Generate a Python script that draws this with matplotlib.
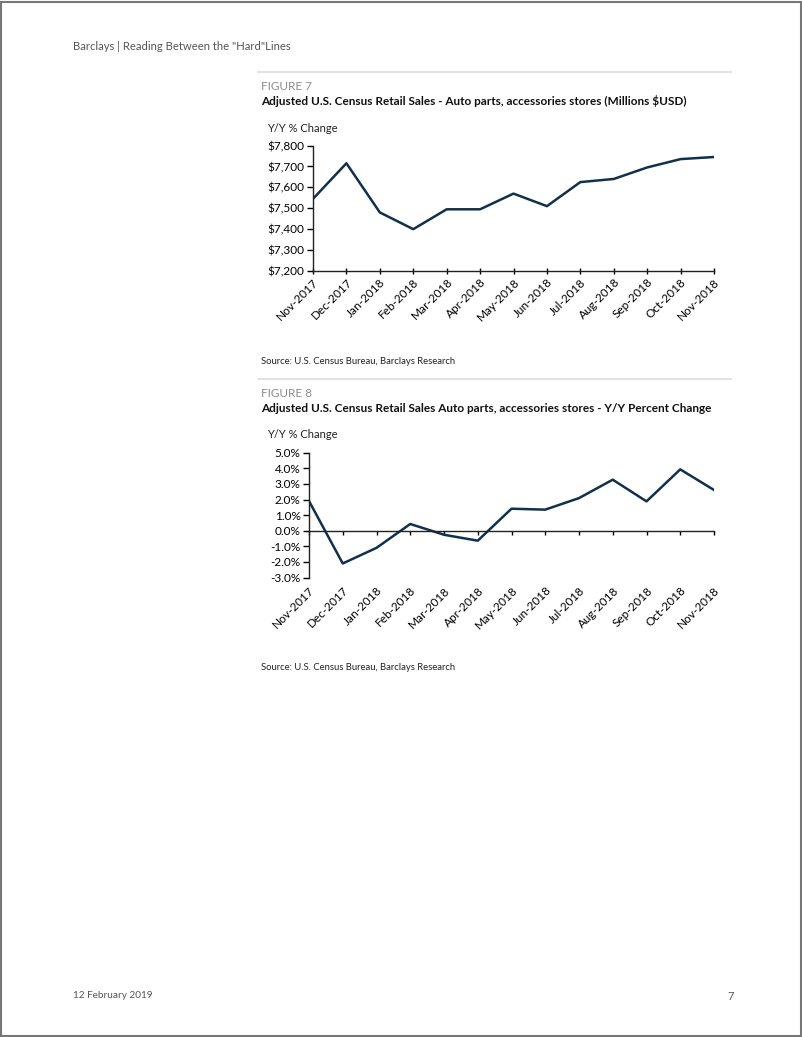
import matplotlib
matplotlib.use("Agg")
import matplotlib.pyplot as plt
from matplotlib.ticker import FuncFormatter
from matplotlib.patches import Rectangle
from matplotlib.lines import Line2D

plt.rcParams["font.family"] = ["Lato", "DejaVu Sans"]

months = ["Nov-2017", "Dec-2017", "Jan-2018", "Feb-2018", "Mar-2018", "Apr-2018",
          "May-2018", "Jun-2018", "Jul-2018", "Aug-2018", "Sep-2018", "Oct-2018",
          "Nov-2018"]
sales = [7545, 7715, 7480, 7400, 7495, 7495, 7570, 7510, 7625, 7640, 7695, 7735, 7745]
yoy_pct = [1.9, -2.1, -1.1, 0.43, -0.26, -0.64, 1.41, 1.35, 2.09, 3.27, 1.88, 3.93, 2.61]

LINE = "#11304b"
GREY = "#8a8a8a"
W, H = 802, 1037


def fx(px):
    return px / W


def fy(py):
    return 1 - py / H


fig = plt.figure(figsize=(W / 100, H / 100), dpi=100)

# page frame, header and footer
fig.add_artist(Rectangle((0.001, 0.001), 0.998, 0.997, transform=fig.transFigure,
                         fill=False, edgecolor="#777777", lw=1.5))
fig.text(fx(73), fy(47), 'Barclays | Reading Between the "Hard"Lines', fontsize=8.1,
         color="#555555", va="center")
fig.text(fx(73), fy(996), "12 February 2019", fontsize=7.2, color="#555555", va="center")
fig.text(fx(727), fy(996), "7", fontsize=8, color="#555555", va="center")


def style_axes(ax, pad=2):
    ax.set_xlim(0, len(months) - 1)
    ax.set_xticks(range(len(months)))
    ax.spines["top"].set_visible(False)
    ax.spines["right"].set_visible(False)
    for s in ("left", "bottom"):
        ax.spines[s].set_linewidth(1.0)
        ax.spines[s].set_color("#222222")
    ax.tick_params(axis="y", direction="out", length=4, width=1, labelsize=8.5, pad=2)
    ax.tick_params(axis="x", direction="out", length=3, width=1, pad=pad)
    ax.set_xticklabels(months)
    plt.setp(ax.get_xticklabels(), rotation=45, ha="right", rotation_mode="anchor",
             fontsize=8.5)


def header(top_rule, fig_label, title):
    fig.add_artist(Line2D([fx(258), fx(731)], [fy(top_rule), fy(top_rule)],
                          transform=fig.transFigure, color="#dddddd", lw=1.2))
    fig.text(fx(261), fy(top_rule + 14), fig_label, fontsize=8.5, color=GREY,
             va="center")
    fig.text(fx(261), fy(top_rule + 29), title, fontsize=8.5, fontweight="bold",
             color="#111111", va="center")


# FIGURE 7
header(72, "FIGURE 7",
       "Adjusted U.S. Census Retail Sales - Auto parts, accessories stores (Millions $USD)")
fig.text(fx(267), fy(128), "Y/Y % Change", fontsize=8, color="#222222", va="center")
ax1 = fig.add_axes([fx(313), fy(271), fx(714 - 313), (271 - 145.5) / H])
ax1.plot(range(len(months)), sales, color=LINE, lw=1.8)
ax1.set_ylim(7200, 7800)
ax1.set_yticks(range(7200, 7801, 100))
ax1.yaxis.set_major_formatter(FuncFormatter(lambda v, p: f"${v:,.0f}"))
style_axes(ax1)
ax1.tick_params(axis="x", direction="inout", length=4)
fig.text(fx(261), fy(361), "Source: U.S. Census Bureau, Barclays Research",
         fontsize=6.8, color="#222222", va="center")

# FIGURE 8
header(379, "FIGURE 8",
       "Adjusted U.S. Census Retail Sales Auto parts, accessories stores - Y/Y Percent Change")
fig.text(fx(267), fy(435), "Y/Y % Change", fontsize=8, color="#222222", va="center")
ax2 = fig.add_axes([fx(309), fy(577.5), fx(714 - 309), (577.5 - 452.7) / H])
ax2.plot(range(len(months)), yoy_pct, color=LINE, lw=1.8)
ax2.set_ylim(-3, 5)
ax2.set_yticks(range(-3, 6))
ax2.yaxis.set_major_formatter(FuncFormatter(lambda v, p: f"{v:.1f}%"))
ax2.spines["bottom"].set_position(("data", 0))
style_axes(ax2, pad=36)
fig.text(fx(261), fy(668), "Source: U.S. Census Bureau, Barclays Research",
         fontsize=6.8, color="#222222", va="center")

fig.savefig("out.png", dpi=100)
